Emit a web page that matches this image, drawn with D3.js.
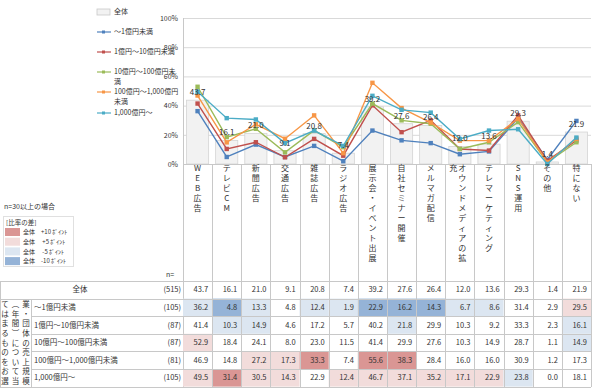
<!DOCTYPE html>
<meta charset="utf-8">
<style>
body { margin: 0; background: #fff; }
svg text { font-family: "Noto Sans CJK JP", sans-serif; fill: #333; }
.grid line { stroke: #d9d9d9; }
.tline { stroke: #c8c8c8; stroke-width: 1; shape-rendering: crispEdges; }
</style>
<body>
<script src="https://d3js.org/d3.v7.min.js"></script>
<script>
// categories and series
var categories = ["WEB広告", "テレビCM", "新聞広告", "交通広告", "雑誌広告", "ラジオ広告",
  "展示会・イベント出展", "自社セミナー開催", "メルマガ配信", "オウンドメディアの拡充",
  "テレマーケティング", "SNS運用", "その他", "特にない"];
var seriesNames = ["～1億円未満", "1億円～10億円未満", "10億円～100億円未満", "100億円～1,000億円未満", "1,000億円～"];
var totalName = "全体";
var nTotal = 515;
var nValues = [105, 87, 87, 81, 105];

var total = [43.7, 16.1, 21.0, 9.1, 20.8, 7.4, 39.2, 27.6, 26.4, 12.0, 13.6, 29.3, 1.4, 21.9];
var under1 = [36.2, 4.8, 13.3, 4.8, 12.4, 1.9, 22.9, 16.2, 14.3, 6.7, 8.6, 31.4, 2.9, 29.5];
var from1to10 = [41.4, 10.3, 14.9, 4.6, 17.2, 5.7, 40.2, 21.8, 29.9, 10.3, 9.2, 33.3, 2.3, 16.1];
var from10to100 = [52.9, 18.4, 24.1, 8.0, 23.0, 11.5, 41.4, 29.9, 27.6, 10.3, 14.9, 28.7, 1.1, 14.9];
var from100to1000 = [46.9, 14.8, 27.2, 17.3, 33.3, 7.4, 55.6, 38.3, 28.4, 16.0, 16.0, 30.9, 1.2, 17.3];
var over1000 = [49.5, 31.4, 30.5, 14.3, 22.9, 12.4, 46.7, 37.1, 35.2, 17.1, 22.9, 23.8, 0.0, 18.1];
var seriesValues = [under1, from1to10, from10to100, from100to1000, over1000];

var yTicks = [0, 20, 40, 60, 80, 100];
var diffLegend = ["全体　+10 ﾎﾟｲﾝﾄ", "全体　 +5 ﾎﾟｲﾝﾄ", "全体　 -5 ﾎﾟｲﾝﾄ", "全体　-10 ﾎﾟｲﾝﾄ"];
var questionCols = ["業・団体の売上規模", "︵年間︶について当", "てはまるものをお選"];

var colors = ["#4f81bd", "#c0504d", "#9bbb59", "#f79646", "#4bacc6"];
var diffColors = ["#da9694", "#f2dcdb", "#dce6f1", "#95b3d7"];

var W = 600, H = 391;
var svg = d3.select("body").append("svg").attr("width", W).attr("height", H);

var x = d3.scaleBand().domain(categories).range([183, 591]);
var y = d3.scaleLinear().domain([0, 100]).range([164, 18]);

// gridlines + y axis
svg.append("g").attr("class", "grid")
  .attr("transform", "translate(183,0)")
  .call(d3.axisLeft(y).tickValues(yTicks).tickSize(-408).tickFormat(""))
  .call(function(g) { g.select(".domain").remove(); });
svg.append("g")
  .attr("transform", "translate(183,0)")
  .call(d3.axisLeft(y).tickValues(yTicks).tickSize(0).tickPadding(5).tickFormat(function(d) { return d + "%"; }))
  .call(function(g) {
    g.select(".domain").remove();
    g.selectAll("text").style("font-size", "7px").attr("fill", "#333");
  });

// bars (全体)
svg.selectAll(".bar").data(total).enter().append("rect")
  .attr("x", function(d, i) { return x(categories[i]) + x.bandwidth() * 0.12; })
  .attr("width", x.bandwidth() * 0.76)
  .attr("y", function(d) { return y(d); })
  .attr("height", function(d) { return y(0) - y(d); })
  .attr("fill", "#f2f2f2").attr("stroke", "#d4d4d4").attr("stroke-width", 0.8);

// left axis line and baseline
svg.append("line").attr("class", "tline").attr("x1", 183.5).attr("x2", 183.5).attr("y1", 18).attr("y2", 387);
svg.append("line").attr("class", "tline").attr("x1", 183).attr("x2", 591).attr("y1", 164.5).attr("y2", 164.5);

// lines
var line = d3.line()
  .x(function(d, i) { return x(categories[i]) + x.bandwidth() / 2; })
  .y(function(d) { return y(d); });
seriesValues.forEach(function(vals, s) {
  svg.append("path").datum(vals).attr("d", line)
    .attr("fill", "none").attr("stroke", colors[s]).attr("stroke-width", 1.4);
  svg.selectAll(".m" + s).data(vals).enter().append("rect")
    .attr("x", function(d, i) { return x(categories[i]) + x.bandwidth() / 2 - 2.2; })
    .attr("y", function(d) { return y(d) - 2.2; })
    .attr("width", 4.4).attr("height", 4.4)
    .attr("fill", colors[s]);
});

// data labels of 全体
svg.selectAll(".lbl").data(total).enter().append("text")
  .attr("x", function(d, i) { return x(categories[i]) + x.bandwidth() / 2; })
  .attr("y", function(d) { return y(d) - 5; })
  .attr("text-anchor", "middle")
  .style("font-size", "8px")
  .text(function(d) { return d.toFixed(1); });

// legend
var lg = svg.append("g");
lg.append("rect").attr("x", 97).attr("y", 9).attr("width", 13).attr("height", 6)
  .attr("fill", "#f2f2f2").attr("stroke", "#c8c8c8").attr("stroke-width", 0.8);
lg.append("text").attr("x", 114).attr("y", 12).attr("dy", "0.35em").style("font-size", "7px").text(totalName);
var legY = [32, 52, 72, 92, 113];
seriesNames.forEach(function(name, s) {
  var ly = legY[s];
  lg.append("line").attr("x1", 97).attr("x2", 111).attr("y1", ly).attr("y2", ly)
    .attr("stroke", colors[s]).attr("stroke-width", 1.2);
  lg.append("rect").attr("x", 102).attr("y", ly - 1.5).attr("width", 3).attr("height", 3).attr("fill", colors[s]);
  var t = lg.append("text").attr("x", 114).attr("y", ly).attr("dy", "0.35em").style("font-size", "7px");
  // wrap by measured width
  var chars = Array.from(name), lines = [""];
  chars.forEach(function(c) {
    t.text(lines[lines.length - 1] + c);
    if (t.node().getComputedTextLength() > 65) lines.push(c);
    else lines[lines.length - 1] += c;
  });
  t.text(null);
  lines.forEach(function(l, k) {
    t.append("tspan").attr("x", 114).attr("y", ly + k * 9.5).attr("dy", "0.35em").text(l);
  });
});

// vertical category labels
function vText(g, str, cx, y0, step, size) {
  Array.from(str).forEach(function(c, i) {
    g.append("text").attr("x", cx).attr("y", y0 + i * step)
      .attr("text-anchor", "middle").attr("dy", "0.35em")
      .style("font-size", size + "px").text(c);
  });
}
var catG = svg.append("g");
categories.forEach(function(c) {
  var cx = x(c) + x.bandwidth() / 2;
  var chars = Array.from(c);
  if (chars.length > 10) {
    vText(catG, chars.slice(0, 10).join(""), cx + 2.5, 168, 10, 8);
    vText(catG, chars.slice(10).join(""), cx - 6.5, 168, 10, 8);
  } else {
    vText(catG, c, cx, 168, 10, 8);
  }
});

// table
var rowH = 17.6, tTop = 281;
var rows = [totalName].concat(seriesNames);
var rowVals = [total].concat(seriesValues);
var rowN = [nTotal].concat(nValues);
var tg = svg.append("g");

function cellColor(v, i) {
  var d = Math.round((v - total[i]) * 10) / 10;
  if (d >= 10) return diffColors[0];
  if (d >= 5) return diffColors[1];
  if (d <= -10) return diffColors[3];
  if (d <= -5) return diffColors[2];
  return null;
}

rowVals.forEach(function(vals, r) {
  var ry = tTop + r * rowH;
  vals.forEach(function(v, i) {
    var col = r > 0 ? cellColor(v, i) : null;
    if (col) tg.append("rect").attr("x", x(categories[i])).attr("y", ry)
      .attr("width", x.bandwidth()).attr("height", rowH).attr("fill", col);
    tg.append("text").attr("x", x(categories[i]) + x.bandwidth() - 4).attr("y", ry + rowH / 2)
      .attr("dy", "0.35em").attr("text-anchor", "end").style("font-size", "7.5px").text(v.toFixed(1));
  });
  tg.append("text").attr("x", 181).attr("y", ry + rowH / 2).attr("dy", "0.35em")
    .attr("text-anchor", "end").style("font-size", "7.5px").text("(" + rowN[r] + ")");
  if (r === 0) {
    tg.append("text").attr("x", 80).attr("y", ry + rowH / 2).attr("dy", "0.35em")
      .attr("text-anchor", "middle").style("font-size", "7.5px").text(rows[r]);
  } else {
    tg.append("text").attr("x", 34).attr("y", ry + rowH / 2).attr("dy", "0.35em")
      .style("font-size", "7.5px").text(rows[r]);
  }
});

// table lines
for (var r = 0; r <= rows.length; r++) {
  var ly = Math.round(tTop + r * rowH) + 0.5;
  var x1 = (r === 0 || r === 1 || r === rows.length) ? 0 : 31;
  tg.append("line").attr("class", "tline").attr("x1", x1).attr("x2", 591).attr("y1", ly).attr("y2", ly);
}
categories.forEach(function(c) {
  var lx = Math.round(x(c) + x.bandwidth()) + 0.5;
  tg.append("line").attr("class", "tline").attr("x1", lx).attr("x2", lx).attr("y1", 164).attr("y2", tTop + rows.length * rowH);
});
tg.append("line").attr("class", "tline").attr("x1", 0.5).attr("x2", 0.5).attr("y1", tTop).attr("y2", tTop + rows.length * rowH);
tg.append("line").attr("class", "tline").attr("x1", 31.5).attr("x2", 31.5).attr("y1", tTop + rowH).attr("y2", tTop + rows.length * rowH);

// question label (vertical, right to left)
questionCols.forEach(function(col, k) {
  vText(tg, col, 26 - k * 10.5, tTop + rowH + 6, 9.6, 7.5);
});

svg.append("text").attr("x", 166).attr("y", 275).attr("dy", "0.35em").style("font-size", "7px").text("n=");

// diff legend
svg.append("text").attr("x", 4).attr("y", 207).attr("dy", "0.35em").style("font-size", "7px").text("n=30以上の場合");
svg.append("rect").attr("x", 3.5).attr("y", 216.5).attr("width", 70).attr("height", 50)
  .attr("fill", "#fff").attr("stroke", "#e0e0e0");
svg.append("text").attr("x", 6).attr("y", 223).attr("dy", "0.35em").style("font-size", "6.5px").text("[比率の差]");
diffLegend.forEach(function(t, k) {
  var ly = 232 + k * 9.7;
  svg.append("rect").attr("x", 5).attr("y", ly - 4).attr("width", 15).attr("height", 8).attr("fill", diffColors[k]);
  svg.append("text").attr("x", 23).attr("y", ly).attr("dy", "0.35em").style("font-size", "6px").text(t);
});
</script>
</body>
